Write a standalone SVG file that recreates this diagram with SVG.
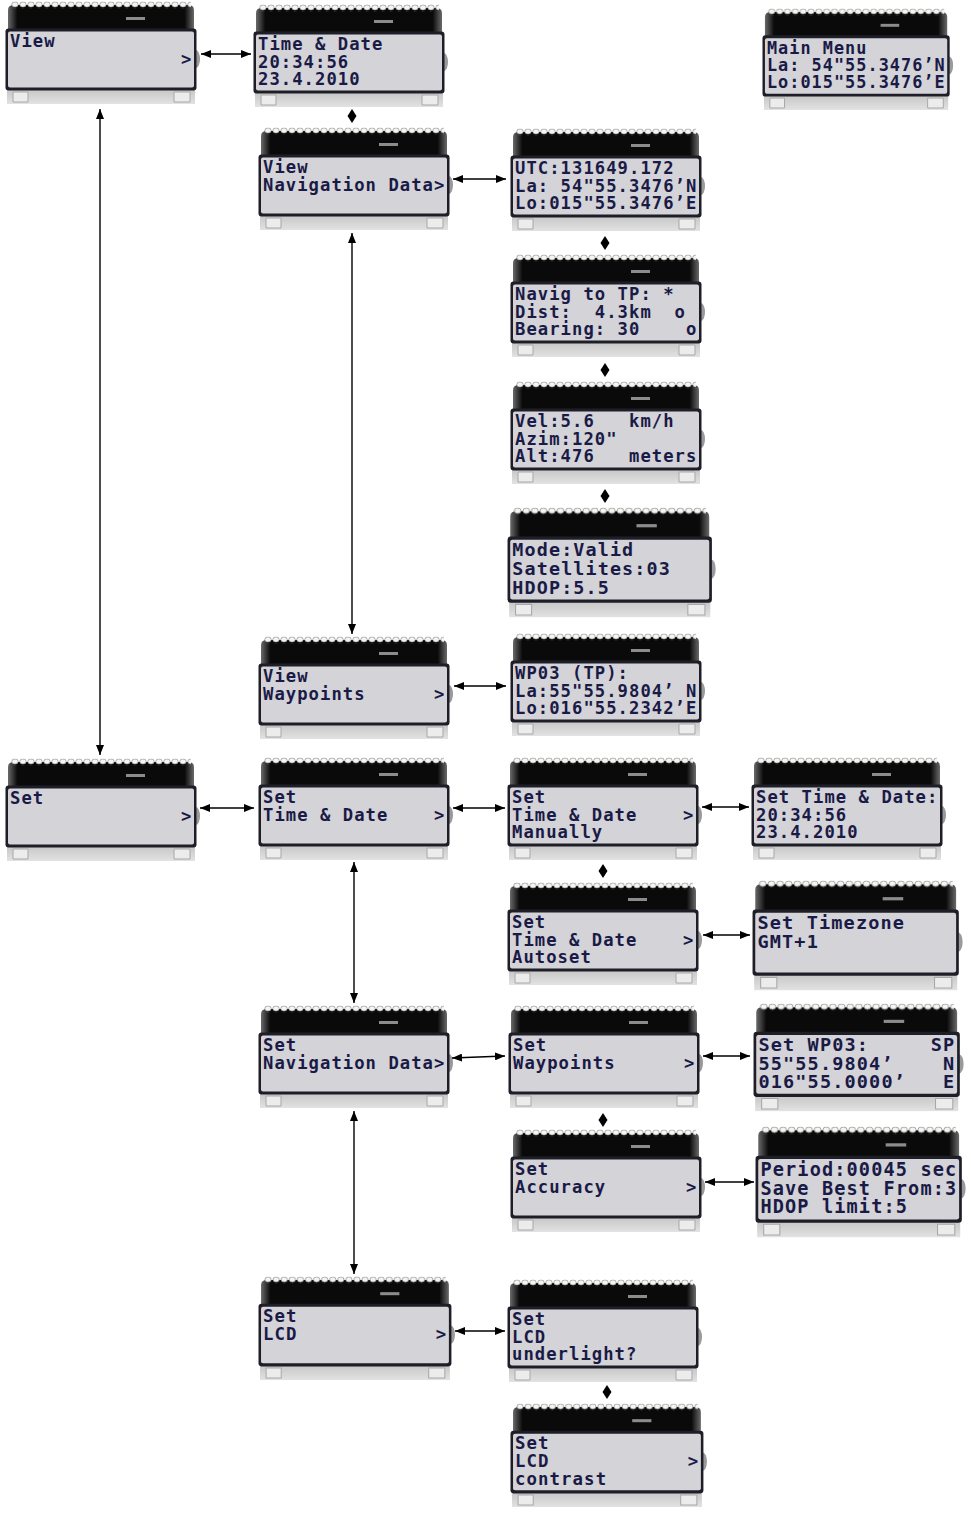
<svg xmlns="http://www.w3.org/2000/svg" xmlns:xlink="http://www.w3.org/1999/xlink" width="971" height="1513" viewBox="0 0 971 1513">
<style>
.t{font-family:"DejaVu Sans Mono","Liberation Mono",monospace;font-size:17.2px;font-weight:bold;letter-spacing:1.05px;fill:#1a1a46;white-space:pre}
.c line{stroke:#000;stroke-width:1.4;marker-start:url(#ah);marker-end:url(#ah)}
.d{fill:#000}
</style>
<defs>
<marker id="ah" viewBox="0 0 10 8" refX="10" refY="4" markerWidth="10" markerHeight="8" markerUnits="userSpaceOnUse" orient="auto-start-reverse"><path d="M0,0 L10,4 L0,8 Z" fill="#000"/></marker>
<pattern id="pins" x="6" y="0" width="8" height="7" patternUnits="userSpaceOnUse"><ellipse cx="4" cy="3.5" rx="3.2" ry="2.6" fill="#f4f4f0" stroke="#777" stroke-width="0.6"/></pattern>
<linearGradient id="bk" x1="0" x2="1" y1="0" y2="0"><stop offset="0" stop-color="#6a6a6a"/><stop offset="0.05" stop-color="#0a0a0a"/><stop offset="0.95" stop-color="#0a0a0a"/><stop offset="1" stop-color="#6a6a6a"/></linearGradient>
<linearGradient id="bt" x1="0" x2="0" y1="0" y2="1"><stop offset="0" stop-color="#c4c4c4"/><stop offset="1" stop-color="#e2e2e2"/></linearGradient>
<g id="lcd">
<path d="M3,30 V9 Q3,4 9,4 H183 Q189,4 189,9 V30 Z" fill="url(#bk)"/>
<rect x="6" y="0.5" width="180" height="7" fill="url(#pins)"/>
<rect x="121" y="16" width="19" height="3" fill="#8c8c8c"/>
<ellipse cx="191" cy="58" rx="4" ry="9" fill="#9a9a9a"/>
<rect x="2" y="87" width="188" height="16" fill="url(#bt)"/>
<path d="M8,91 h15 v10 h-15z M169,91 h16 v10 h-16z" fill="#ececec" stroke="#a8a8a8" stroke-width="1"/>
<rect x="0.5" y="27.5" width="191" height="62" rx="3" fill="#1e1e28"/>
<rect x="3" y="30.5" width="186" height="56" rx="2" fill="#d3d3d8"/>
</g>
</defs>
<rect width="971" height="1513" fill="#fff"/>

<g id="n-view" transform="translate(5,1)"><use href="#lcd"/><text class="t" x="5" y="46">View</text><text class="t" x="5" y="63.5">               &gt;</text></g>
<g id="n-timedate" transform="translate(253,4)"><use href="#lcd"/><text class="t" x="5" y="46">Time &amp; Date</text><text class="t" x="5" y="63.5">20:34:56</text><text class="t" x="5" y="81">23.4.2010</text></g>
<g id="n-mainmenu" transform="translate(762,8) scale(0.98,0.99)"><use href="#lcd"/><text class="t" x="5" y="46">Main Menu</text><text class="t" x="5" y="63.5">La: 54"55.3476’N</text><text class="t" x="5" y="81">Lo:015"55.3476’E</text></g>
<g id="n-viewnav" transform="translate(258,127)"><use href="#lcd"/><text class="t" x="5" y="46">View</text><text class="t" x="5" y="63.5">Navigation Data&gt;</text></g>
<g id="n-utc" transform="translate(510,128)"><use href="#lcd"/><text class="t" x="5" y="46">UTC:131649.172</text><text class="t" x="5" y="63.5">La: 54"55.3476’N</text><text class="t" x="5" y="81">Lo:015"55.3476’E</text></g>
<g id="n-navig" transform="translate(510,254)"><use href="#lcd"/><text class="t" x="5" y="46">Navig to TP: *</text><text class="t" x="5" y="63.5">Dist:  4.3km  o</text><text class="t" x="5" y="81">Bearing: 30    o</text></g>
<g id="n-vel" transform="translate(510,381)"><use href="#lcd"/><text class="t" x="5" y="46">Vel:5.6   km/h</text><text class="t" x="5" y="63.5">Azim:120"</text><text class="t" x="5" y="81">Alt:476   meters</text></g>
<g id="n-mode" transform="translate(507,507) scale(1.07,1.07)"><use href="#lcd"/><text class="t" x="5" y="46">Mode:Valid</text><text class="t" x="5" y="63.5">Satellites:03</text><text class="t" x="5" y="81">HDOP:5.5</text></g>
<g id="n-viewwp" transform="translate(258,636)"><use href="#lcd"/><text class="t" x="5" y="46">View</text><text class="t" x="5" y="63.5">Waypoints      &gt;</text></g>
<g id="n-wp03" transform="translate(510,633)"><use href="#lcd"/><text class="t" x="5" y="46">WP03 (TP):</text><text class="t" x="5" y="63.5">La:55"55.9804’ N</text><text class="t" x="5" y="81">Lo:016"55.2342’E</text></g>
<g id="n-set" transform="translate(5,758)"><use href="#lcd"/><text class="t" x="5" y="46">Set</text><text class="t" x="5" y="63.5">               &gt;</text></g>
<g id="n-settd" transform="translate(258,757)"><use href="#lcd"/><text class="t" x="5" y="46">Set</text><text class="t" x="5" y="63.5">Time &amp; Date    &gt;</text></g>
<g id="n-manual" transform="translate(507,757)"><use href="#lcd"/><text class="t" x="5" y="46">Set</text><text class="t" x="5" y="63.5">Time &amp; Date    &gt;</text><text class="t" x="5" y="81">Manually</text></g>
<g id="n-settdval" transform="translate(751,757)"><use href="#lcd"/><text class="t" x="5" y="46">Set Time &amp; Date:</text><text class="t" x="5" y="63.5">20:34:56</text><text class="t" x="5" y="81">23.4.2010</text></g>
<g id="n-autoset" transform="translate(507,882)"><use href="#lcd"/><text class="t" x="5" y="46">Set</text><text class="t" x="5" y="63.5">Time &amp; Date    &gt;</text><text class="t" x="5" y="81">Autoset</text></g>
<g id="n-timezone" transform="translate(752,880) scale(1.08,1.07)"><use href="#lcd"/><text class="t" x="5" y="46">Set Timezone</text><text class="t" x="5" y="63.5">GMT+1</text></g>
<g id="n-setnav" transform="translate(258,1005)"><use href="#lcd"/><text class="t" x="5" y="46">Set</text><text class="t" x="5" y="63.5">Navigation Data&gt;</text></g>
<g id="n-setwp" transform="translate(508,1005)"><use href="#lcd"/><text class="t" x="5" y="46">Set</text><text class="t" x="5" y="63.5">Waypoints      &gt;</text></g>
<g id="n-setwp03" transform="translate(753,1003) scale(1.08,1.05)"><use href="#lcd"/><text class="t" x="5" y="46">Set WP03:     SP</text><text class="t" x="5" y="63.5">55"55.9804’    N</text><text class="t" x="5" y="81">016"55.0000’   E</text></g>
<g id="n-accuracy" transform="translate(510,1129)"><use href="#lcd"/><text class="t" x="5" y="46">Set</text><text class="t" x="5" y="63.5">Accuracy       &gt;</text></g>
<g id="n-period" transform="translate(755,1126) scale(1.08,1.08)"><use href="#lcd"/><text class="t" x="5" y="46">Period:00045 sec</text><text class="t" x="5" y="63.5">Save Best From:3</text><text class="t" x="5" y="81">HDOP limit:5</text></g>
<g id="n-setlcd" transform="translate(258,1276) scale(1.01,1.01)"><use href="#lcd"/><text class="t" x="5" y="46">Set</text><text class="t" x="5" y="63.5">LCD            &gt;</text></g>
<g id="n-underlight" transform="translate(507,1279)"><use href="#lcd"/><text class="t" x="5" y="46">Set</text><text class="t" x="5" y="63.5">LCD</text><text class="t" x="5" y="81">underlight?</text></g>
<g id="n-contrast" transform="translate(510,1403) scale(1.01,1.01)"><use href="#lcd"/><text class="t" x="5" y="46">Set</text><text class="t" x="5" y="63.5">LCD            &gt;</text><text class="t" x="5" y="81">contrast</text></g>

<g id="connectors" class="c">
<line x1="201" y1="54" x2="251" y2="54"/>
<line x1="453" y1="179" x2="506" y2="179"/>
<line x1="454" y1="686" x2="506" y2="686"/>
<line x1="200" y1="808" x2="254" y2="808"/>
<line x1="453" y1="808" x2="505" y2="808"/>
<line x1="702" y1="807" x2="749" y2="807"/>
<line x1="703" y1="935" x2="750" y2="935"/>
<line x1="452" y1="1058" x2="505" y2="1056"/>
<line x1="703" y1="1056" x2="750" y2="1056"/>
<line x1="705" y1="1182" x2="754" y2="1182"/>
<line x1="455" y1="1331" x2="505" y2="1331"/>
<line x1="100" y1="109" x2="100" y2="755"/>
<line x1="352" y1="233" x2="352" y2="634"/>
<line x1="354" y1="862" x2="354" y2="1003"/>
<line x1="354" y1="1111" x2="354" y2="1274"/>
<polygon class="d" points="352,109 356.5,116 352,123 347.5,116"/>
<polygon class="d" points="605,236 609.5,243 605,250 600.5,243"/>
<polygon class="d" points="605,363 609.5,370 605,377 600.5,370"/>
<polygon class="d" points="605,489 609.5,496 605,503 600.5,496"/>
<polygon class="d" points="603,864 607.5,871 603,878 598.5,871"/>
<polygon class="d" points="603,1113 607.5,1120 603,1127 598.5,1120"/>
<polygon class="d" points="607,1385 611.5,1392 607,1399 602.5,1392"/>
</g>
</svg>
